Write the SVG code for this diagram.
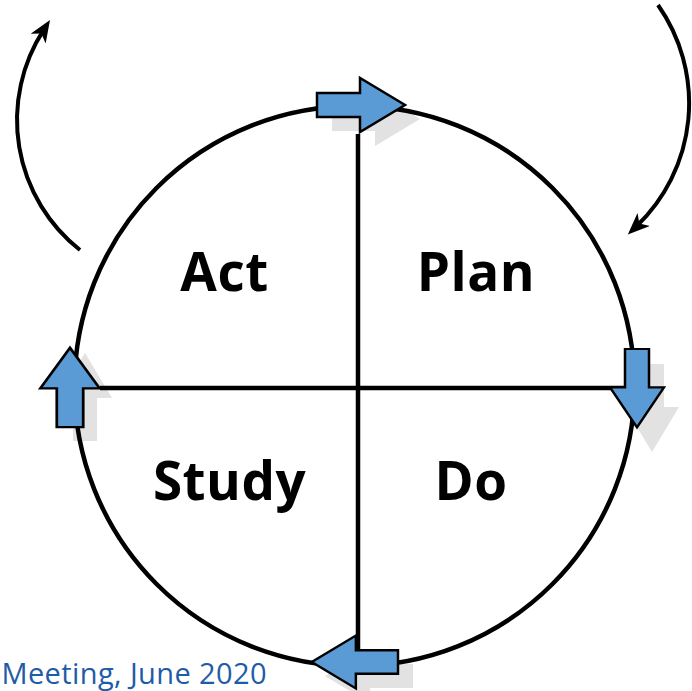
<svg xmlns="http://www.w3.org/2000/svg" width="692" height="691" viewBox="0 0 692 691">
<style>
.ln{fill:none;stroke:#000;stroke-width:4.5}
.arc{fill:none;stroke:#000;stroke-width:4}
.blk{fill:#5b9bd5;stroke:#000;stroke-width:2.5;stroke-linejoin:miter}
.shd{fill:#e2e2e2;stroke:none}
.lbl{font-family:"Open Sans","Liberation Sans",sans-serif;font-weight:bold;font-size:53px;letter-spacing:0.5px;fill:#000;text-anchor:middle}
.foot{font-family:"Open Sans","Liberation Sans",sans-serif;font-size:29px;letter-spacing:0.4px;fill:#1f5ca8}
</style>
<defs>
<marker id="head" markerUnits="userSpaceOnUse" markerWidth="26" markerHeight="20" refX="10" refY="9" orient="auto" viewBox="0 0 26 20">
<path d="M0,0 L22,9 L0,18 L6,9 Z" fill="#000"/>
</marker>
<path id="arR" d="M0,-12 L43,-12 L43,-27 L88,0 L43,27 L43,12 L0,12 Z"/>
</defs>
<g id="shadows">
<use href="#arR" class="shd" transform="translate(332,119)"/>
<use href="#arR" class="shd" transform="translate(652,364) rotate(90)"/>
<use href="#arR" class="shd" transform="translate(413,676) rotate(180)"/>
<use href="#arR" class="shd" transform="translate(85,441) rotate(-90)"/>
</g>
<g id="cycle">
<circle cx="354.5" cy="386" r="280" class="ln"/>
</g>
<g id="connectors">
<line x1="358" y1="134" x2="358" y2="660" class="ln"/>
<line x1="100" y1="388" x2="632" y2="388" class="ln"/>
<path d="M80,250 A165.6,165.6 0 0 1 43.5,30.2" class="arc" marker-end="url(#head)"/>
<path d="M658,5 A170.4,170.4 0 0 1 636.5,226.3" class="arc" marker-end="url(#head)"/>
</g>
<g id="arrow-top"><use href="#arR" class="blk" transform="translate(317,105)"/></g>
<g id="arrow-right"><use href="#arR" class="blk" transform="translate(637,349) rotate(90) scale(0.89,1)"/></g>
<g id="arrow-bottom"><use href="#arR" class="blk" transform="translate(398,662) rotate(180) scale(0.98,0.98)"/></g>
<g id="arrow-left"><use href="#arR" class="blk" transform="translate(70,427) rotate(-90) scale(0.9,1.1)"/></g>
<g id="act"><text x="224.5" y="291" class="lbl">Act</text></g>
<g id="plan"><text x="476" y="291" class="lbl">Plan</text></g>
<g id="study"><text x="229.5" y="500" class="lbl">Study</text></g>
<g id="do"><text x="471" y="500" class="lbl">Do</text></g>
<text x="267" y="684" class="foot" text-anchor="end">Meeting, June 2020</text>
</svg>
